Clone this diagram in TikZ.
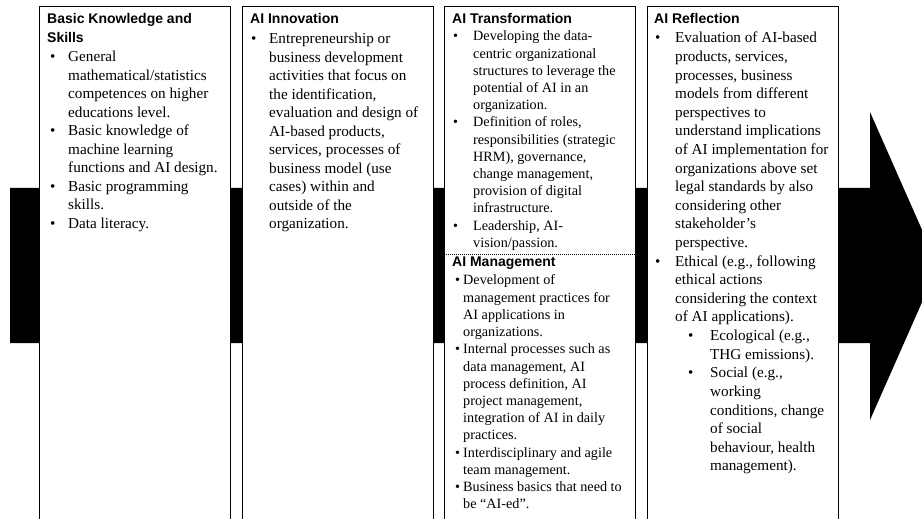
\documentclass[tikz,border=0pt]{standalone}
\usepackage{fontspec}
\setmainfont{Liberation Serif}
\newfontfamily\headfont{Liberation Sans}
\newcommand{\bodyA}{\fontsize{15.2bp}{18.5bp}\selectfont}
\newcommand{\bodyC}{\fontsize{15.2bp}{18.6bp}\selectfont}
\newcommand{\bodyB}{\fontsize{14.2bp}{17.2bp}\selectfont}
\newcommand{\headtxt}{\headfont\bfseries\fontsize{14bp}{18.5bp}\selectfont}
% bullet item: #1 left indent, #2 bullet-to-text gap, #3 text with explicit breaks
\newcommand{\bitem}[3]{\par\leftskip=#1\noindent\hangindent=#2\hangafter=1\makebox[#2][l]{\textbullet}#3}
\begin{document}
\begin{tikzpicture}[x=1bp,y=-1bp,
  panel/.style={draw=black,fill=white,line width=0.9bp,rectangle,inner sep=0,outer sep=0,
                minimum width=191bp,minimum height=530bp,anchor=north west},
  headlbl/.style={anchor=base west,inner sep=0},
  bodylbl/.style={anchor=base west,inner sep=0},
  sepline/.style={draw=black,line width=0.7bp,dash pattern=on 1bp off 1bp},
  bigarrow/.style={fill=black,draw=none}]
\useasboundingbox (0,0) rectangle (922,519);
\clip (0,0) rectangle (922,519);

% the black process arrow behind the panels
\coordinate (aL1) at (10,188);
\coordinate (aS1) at (870,188);
\coordinate (aH1) at (870,112);
\coordinate (aT)  at (938,266);
\coordinate (aH2) at (870,420);
\coordinate (aS2) at (870,343);
\coordinate (aL2) at (10,343);
\fill[bigarrow] (aL1) -- (aS1) -- (aH1) -- (aT) -- (aH2) -- (aS2) -- (aL2) -- cycle;

% four panels
\node[panel] (p1) at (39,6) {};
\node[panel] (p2) at (242,6) {};
\node[panel] (p3) at (444,6) {};
\node[panel] (p4) at (647,6) {};

% panel 1
\node[headlbl] (h1) at (47,24) {\parbox[t]{180bp}{\headtxt Basic Knowledge and\newline Skills}};
\node[bodylbl] (t1) at (50,62) {\parbox[t]{250bp}{\bodyA\raggedright
  \bitem{0bp}{18bp}{General\newline mathematical/statistics\newline competences on higher\newline educations level.}
  \bitem{0bp}{18bp}{Basic knowledge of\newline machine learning\newline functions and AI design.}
  \bitem{0bp}{18bp}{Basic programming\newline skills.}
  \bitem{0bp}{18bp}{Data literacy.}}};

% panel 2
\node[headlbl] (h2) at (250,24) {\parbox[t]{180bp}{\headtxt AI Innovation}};
\node[bodylbl] (t2) at (251,44) {\parbox[t]{250bp}{\bodyA\raggedright
  \bitem{0bp}{18bp}{Entrepreneurship or\newline business development\newline activities that focus on\newline the identification,\newline evaluation and design of\newline AI-based products,\newline services, processes of\newline business model (use\newline cases) within and\newline outside of the\newline organization.}}};

% panel 3, upper part
\node[headlbl] (h3) at (452,24) {\parbox[t]{180bp}{\headtxt AI Transformation}};
\node[bodylbl] (t3) at (453,41) {\parbox[t]{250bp}{\bodyB\raggedright
  \bitem{0bp}{20bp}{Developing the data-\newline centric organizational\newline structures to leverage the\newline potential of AI in an\newline organization.}
  \bitem{0bp}{20bp}{Definition of roles,\newline responsibilities (strategic\newline HRM), governance,\newline change management,\newline provision of digital\newline infrastructure.}
  \bitem{0bp}{20bp}{Leadership, AI-\newline vision/passion.}}};

% panel 3, lower part
\coordinate (sepL) at (444,254);
\coordinate (sepR) at (635,254);
\draw[sepline] (sepL) -- (sepR);
\node[headlbl] (h5) at (452,267) {\parbox[t]{180bp}{\headtxt AI Management}};
\node[bodylbl] (t5) at (455,285) {\parbox[t]{250bp}{\bodyB\raggedright
  \bitem{0bp}{8bp}{Development of\newline management practices for\newline AI applications in\newline organizations.}
  \bitem{0bp}{8bp}{Internal processes such as\newline data management, AI\newline process definition, AI\newline project management,\newline integration of AI in daily\newline practices.}
  \bitem{0bp}{8bp}{Interdisciplinary and agile\newline team management.}
  \bitem{0bp}{8bp}{Business basics that need to\newline be “AI-ed”.}}};

% panel 4
\node[headlbl] (h4) at (654,24) {\parbox[t]{180bp}{\headtxt AI Reflection}};
\node[bodylbl] (t4) at (655,43) {\parbox[t]{250bp}{\bodyC\raggedright
  \bitem{0bp}{20bp}{Evaluation of AI-based\newline products, services,\newline processes, business\newline models from different\newline perspectives to\newline understand implications\newline of AI implementation for\newline organizations above set\newline legal standards by also\newline considering other\newline stakeholder’s\newline perspective.}
  \bitem{0bp}{20bp}{Ethical (e.g., following\newline ethical actions\newline considering the context\newline of AI applications).}
  \bitem{33bp}{22bp}{Ecological (e.g.,\newline THG emissions).}
  \bitem{33bp}{22bp}{Social (e.g.,\newline working\newline conditions, change\newline of social\newline behaviour, health\newline management).}}};
\end{tikzpicture}
\end{document}
